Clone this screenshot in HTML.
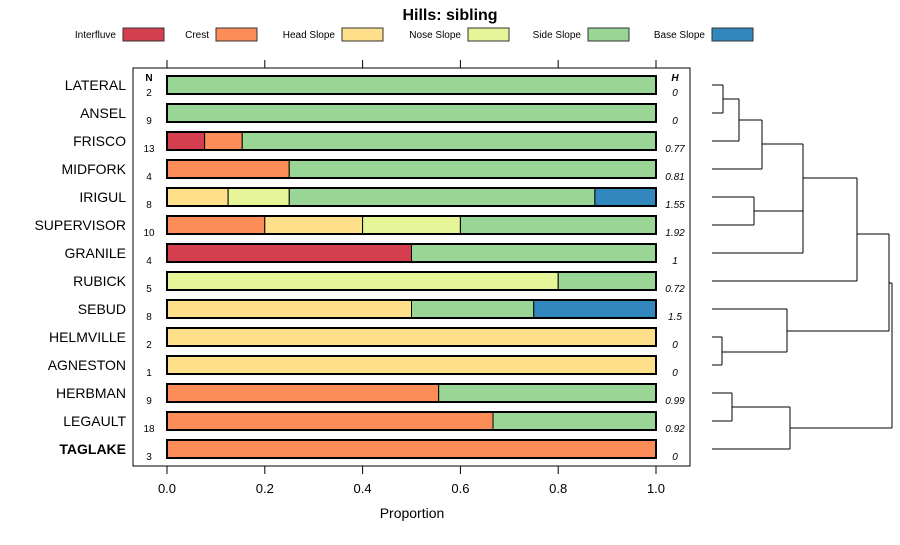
<!DOCTYPE html>
<html><head><meta charset="utf-8"><style>
body{margin:0;background:#fff;}
svg{font-family:"Liberation Sans",sans-serif;}
</style></head><body>
<svg id="c" width="900" height="540" viewBox="0 0 900 540">
<text x="450" y="20" text-anchor="middle" font-size="16" font-weight="bold">Hills: sibling</text>
<g id="legend"></g>
<rect x="133" y="68" width="557" height="398" fill="none" stroke="#000" stroke-width="1"/>
<g id="axes"></g>
<g id="bars"></g>
<g id="dendro" stroke="#000" stroke-width="1" fill="none"></g>
<text x="412" y="518" text-anchor="middle" font-size="14">Proportion</text>
<text x="149" y="81" text-anchor="middle" font-size="10" font-weight="bold">N</text>
<text x="675" y="81" text-anchor="middle" font-size="10" font-weight="bold" font-style="italic">H</text>
</svg>
<script>
const classes=["Interfluve","Crest","Head Slope","Nose Slope","Side Slope","Base Slope"];
const colors=["#D53E4F","#FC8D59","#FEE08B","#E6F598","#99D594","#3288BD"];
const sites=["LATERAL","ANSEL","FRISCO","MIDFORK","IRIGUL","SUPERVISOR","GRANILE","RUBICK","SEBUD","HELMVILLE","AGNESTON","HERBMAN","LEGAULT","TAGLAKE"];
const nVals=[2,9,13,4,8,10,4,5,8,2,1,9,18,3];
const hVals=["0","0","0.77","0.81","1.55","1.92","1","0.72","1.5","0","0","0.99","0.92","0"];
const props=[
[0,0,0,0,1,0],[0,0,0,0,1,0],[1/13,1/13,0,0,11/13,0],[0,0.25,0,0,0.75,0],
[0,0,0.125,0.125,0.625,0.125],[0,0.2,0.2,0.2,0.4,0],[0.5,0,0,0,0.5,0],
[0,0,0,0.8,0.2,0],[0,0,0.5,0,0.25,0.25],[0,0,1,0,0,0],[0,0,1,0,0,0],
[0,5/9,0,0,4/9,0],[0,12/18,0,0,6/18,0],[0,1,0,0,0,0]];
const ticks=[0,0.2,0.4,0.6,0.8,1.0];
const ns="http://www.w3.org/2000/svg";
function mk(t,a,p){const e=document.createElementNS(ns,t);for(const k in a)e.setAttribute(k,a[k]);p.appendChild(e);return e;}
const xs=v=>167+v*489;
const ys=i=>85+i*28;
// legend
const legX=[123,216,342,468,588,712];
const lg=document.getElementById('legend');
classes.forEach((c,i)=>{
 const t=mk('text',{x:legX[i]-7,y:38,'text-anchor':'end','font-size':10},lg);t.textContent=c;
 
 
 const r=mk('rect',{x:legX[i],y:28,width:41,height:13,fill:colors[i],stroke:'#333'},lg);
 
 
});
// axes
const ax=document.getElementById('axes');
ticks.forEach(v=>{
 mk('line',{x1:xs(v),x2:xs(v),y1:60,y2:68,stroke:'#000'},ax);
 mk('line',{x1:xs(v),x2:xs(v),y1:466,y2:474,stroke:'#000'},ax);
 const t=mk('text',{x:xs(v),y:493,'text-anchor':'middle','font-size':13},ax);t.textContent=v.toFixed(1);
 
 
});
// bars
const bg=document.getElementById('bars');
sites.forEach((s,i)=>{
 const y=ys(i);
 const l=mk('text',{x:126,y:y+5,'text-anchor':'end','font-size':14,'font-weight':i==sites.length-1?'bold':'normal'},bg);l.textContent=s;
 
 
 let acc=0;
 props[i].forEach((p,k)=>{
  if(p<=0)return;
  const r=mk('rect',{x:xs(acc),y:y-9,width:xs(acc+p)-xs(acc),height:18,fill:colors[k],stroke:'#000','stroke-width':1},bg);
  
  
  acc+=p;
 });
 mk('rect',{x:xs(0),y:y-9,width:xs(1)-xs(0),height:18,fill:'none',stroke:'#000','stroke-width':2},bg);
 const n=mk('text',{x:149,y:y+11,'text-anchor':'middle','font-size':10},bg);n.textContent=nVals[i];
 
 
 const h=mk('text',{x:675,y:y+11,'text-anchor':'middle','font-size':10,'font-style':'italic'},bg);h.textContent=hVals[i];
 
 
});
// dendrogram
const dg=document.getElementById('dendro');
const segs=[[712,85,723,85],[712,113,723,113],[723,85,723,113],[723,99,739,99],[712,141,739,141],[739,99,739,141],
[739,120,762,120],[712,169,762,169],[762,120,762,169],[762,144,803,144],
[712,197,754,197],[712,225,754,225],[754,197,754,225],[754,211,803,211],[712,253,803,253],[803,144,803,253],
[803,178,857,178],[712,281,857,281],[857,178,857,281],[857,234,889,234],
[712,337,722,337],[712,365,722,365],[722,337,722,365],[722,352,787,352],[712,309,787,309],[787,309,787,352],[787,331,889,331],[889,234,889,331],
[889,283,892,283],[712,393,732,393],[712,421,732,421],[732,393,732,421],[732,407,790,407],[712,449,790,449],[790,407,790,449],[790,428,892,428],[892,283,892,428]];
segs.forEach(s=>mk('line',{x1:s[0],y1:s[1],x2:s[2],y2:s[3]},dg));
</script>
</body></html>
